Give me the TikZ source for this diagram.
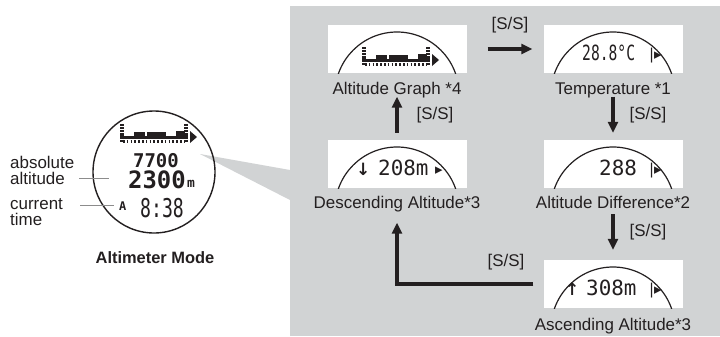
\documentclass[tikz,border=0pt]{standalone}
\usepackage{fontspec}
\setmainfont{Liberation Sans}
\newfontfamily\lcdfont{DejaVu Sans Mono}
\newfontfamily\lcdnarrow[FakeStretch=0.7]{DejaVu Sans Mono}
\newfontfamily\symfont{DejaVu Sans}
\usetikzlibrary{arrows.meta, positioning, calc}
\definecolor{mydark}{RGB}{35,31,32}
\definecolor{panelgray}{RGB}{209,211,212}
\definecolor{leadergray}{RGB}{140,140,140}
\tikzset{
  screen/.style={rectangle, fill=white, minimum width=139bp, minimum height=48bp,
    inner sep=0pt,
    path picture={\draw[mydark, line width=1.2bp]
      ([yshift=-69bp]path picture bounding box.north) circle[radius=62bp];}},
  caption/.style={font=\fontsize{17}{20}\selectfont, text=mydark, anchor=base,
    inner sep=3bp},
  sslbl/.style={font=\fontsize{17}{20}\selectfont, text=mydark, inner sep=3bp},
  note/.style={font=\fontsize{17}{16}\selectfont, text=mydark, align=left,
    inner sep=0pt, anchor=north west},
  lcd/.style={font=\lcdfont\fontsize{21}{21}\selectfont, text=mydark,
    inner sep=0pt, anchor=base west},
  lcdn/.style={font=\lcdnarrow\fontsize{21}{21}\selectfont, text=mydark,
    inner sep=0pt, anchor=base west},
  symb/.style={font=\symfont\bfseries\fontsize{17}{17}\selectfont, text=mydark,
    inner sep=0pt, anchor=base west},
  marker/.style={font=\symfont\fontsize{15}{15}\selectfont, text=mydark,
    inner sep=0pt, anchor=base west},
  flow/.style={-{Triangle[length=11bp,width=10bp]}, line width=3.2bp, color=mydark},
  leader/.style={line width=1bp, color=leadergray},
  altgraph/.pic={
    \draw[line width=3.2bp, dash pattern=on 2.2bp off 0.9bp] (0,-13) -- (0,5);
    \draw[line width=3.2bp, dash pattern=on 2.2bp off 0.9bp] (64,-13) -- (64,5);
    \draw[line width=3bp] (0,0) -- (64,0);
    \fill (12,-5) rectangle (23,1);
    \fill (25,-5) rectangle (44,1);
    \fill (54,-6) rectangle (63,1);
    \draw[line width=3bp, dash pattern=on 1.6bp off 2.2bp] (1,4) -- (63,4);
    \fill (68,-6) -- (75,0) -- (68,6) -- cycle;
  }
}

\begin{document}
\begin{tikzpicture}[x=1bp, y=-1bp, color=mydark]

  % ── Canvas ────────────────────────────────────────────────────────────────
  \fill[white] (0,0) rectangle (720,336);
  \useasboundingbox (0,0) rectangle (720,336);

  % ── Gray panel with the mode cycle ────────────────────────────────────────
  \node[fill=panelgray, inner sep=0pt, minimum width=430bp, minimum height=330bp,
        anchor=north west] (panel) at (290,6) {};

  % ── Callout wedge from the watch to the panel ─────────────────────────────
  \coordinate (tip) at (200,154);
  \fill[panelgray] (tip) -- (panel.west |- 0,170) -- (panel.west |- 0,200) -- cycle;

  % ── Watch face: Altimeter Mode ────────────────────────────────────────────
  \node[circle, draw=mydark, line width=1.4bp, minimum size=122bp, inner sep=0pt]
       (watch) at (154,172) {};
  \pic at (122,137) {altgraph};
  \node[lcd, anchor=base, font=\lcdfont\bfseries\fontsize{19}{19}\selectfont]
       (alttop) at (156,167) {7700};
  \node[lcd, anchor=base, font=\lcdfont\bfseries\fontsize{24}{24}\selectfont]
       (altbig) at (157,188) {2300};
  \node[lcd, font=\lcdfont\bfseries\fontsize{13}{13}\selectfont]
       (unitm) at (187,187) {m};
  \node[lcd, font=\lcdfont\bfseries\fontsize{12}{12}\selectfont]
       (ampm) at (119,210) {A};
  \node[lcdn, anchor=base, font=\lcdnarrow\fontsize{26}{26}\selectfont]
       (clock) at (162,217) {8:38};

  \node[note] (absalt) at (10,156) {absolute\\altitude};
  \node[note] (curtime) at (10,198) {current\\time};
  \coordinate (altpt) at (109,178);
  \coordinate (timept) at (114,205);
  \draw[leader] ($(altpt -| absalt.east)+(5,0)$) -- (altpt);
  \draw[leader] ($(timept -| curtime.east)+(17,0)$) -- (timept);

  \node[caption, font=\bfseries\fontsize{16.5}{20}\selectfont]
       (modelbl) at (155,263) {Altimeter Mode};

  % ── Screens: left column x=397, right column x=613 ────────────────────────
  \node[screen] (graph) at (397,49)  {};
  \node[screen] (temp)  at (613,49)  {};
  \node[screen] (desc)  at (397,164) {};
  \node[screen] (diff)  at (613,164) {};
  \node[screen] (asc)   at (613,284) {};

  % ── Screen contents ───────────────────────────────────────────────────────
  \pic at (364,60) {altgraph};

  \node[lcdn]   (tval)   at (582,60)  {28.8°C};
  \node[marker] (tmark)  at (649,59)  {|▸};

  \node[lcd]    (dfval)  at (599,175) {288};
  \node[marker] (dfmark) at (649,174) {|▸};

  \node[symb]   (dsarr)  at (356,175) {↓};
  \node[lcd]    (dsval)  at (378,175) {208m};
  \node[marker] (dsmark) at (435,174) {▸};

  \node[symb]   (asarr)  at (565,295) {↑};
  \node[lcd]    (asval)  at (586,295) {308m};
  \node[marker] (asmark) at (649,294) {|▸};

  % ── Captions ──────────────────────────────────────────────────────────────
  \node[caption] (graphlbl) at (397,94)  {Altitude Graph *4};
  \node[caption] (templbl)  at (613,94)  {Temperature *1};
  \node[caption] (desclbl)  at (397,208) {Descending Altitude*3};
  \node[caption] (difflbl)  at (613,208) {Altitude Difference*2};
  \node[caption] (asclbl)   at (613,330) {Ascending Altitude*3};

  % ── [S/S] cycle ───────────────────────────────────────────────────────────
  \draw[flow] ([xshift=21bp]graph.east) --
    node[midway, above=11bp, sslbl] {[S/S]} ([xshift=-11bp]temp.west);
  \draw[flow] ([yshift=4bp]templbl.south) --
    node[midway, right=12bp, sslbl] {[S/S]} ([yshift=7bp]diff.north);
  \draw[flow] ([yshift=-3bp]difflbl.south) --
    node[midway, right=12bp, sslbl] {[S/S]} ([yshift=10bp]asc.north);
  \draw[flow] ([xshift=-10bp]asc.west) -|
    node[pos=0.1, above=9bp, sslbl] {[S/S]} ([yshift=-8bp]desclbl.south);
  \draw[flow] ([yshift=7bp]desc.north) --
    node[midway, right=15bp, sslbl] {[S/S]} ([yshift=4bp]graphlbl.south);

\end{tikzpicture}
\end{document}
